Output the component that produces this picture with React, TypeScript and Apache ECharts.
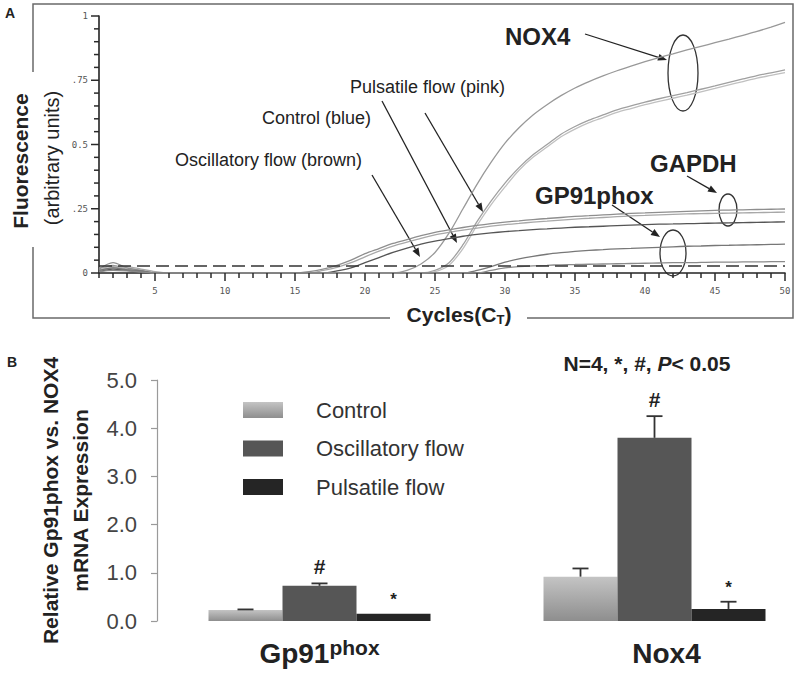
import React, { useEffect, useRef } from 'react';
import * as echarts from 'echarts';

// ---------- Panel A data (qPCR amplification curves) ----------
const cycles = [1,2,3,4,5,6,7,8,9,10,11,12,13,14,15,16,17,18,19,20,21,22,23,24,25,26,27,28,29,30,31,32,33,34,35,36,37,38,39,40,41,42,43,44,45,46,47,48,49,50];
const xMajorTicks = [5,10,15,20,25,30,35,40,45,50];
const yTickValuesA = [0,0.05,0.1,0.15,0.2,0.25,0.3,0.35,0.4,0.45,0.5,0.55,0.6,0.65,0.7,0.75,0.8,0.85,0.9,0.95,1];
const yMajorTicksA = [0, 0.25, 0.5, 0.75, 1];
const yTickLabelsA = ['0', '.25', '0.5', '.75', '1'];
const thresholdA = 0.025;

const nox4Top = [0.01,0.03,0.015,0.01,0, 0,0,0,0,0, 0,0,0,0,0, 0,0,0,0,0, 0,0,0.01,0.035,0.08, 0.155,0.25,0.345,0.43,0.505, 0.565,0.615,0.655,0.69,0.72, 0.745,0.767,0.787,0.805,0.822, 0.838,0.853,0.868,0.882,0.896, 0.91,0.925,0.94,0.957,0.975];
const nox4PairA = [0.02,0.025,0.01,0.005,0, 0,0,0,0,0, 0,0,0,0,0, 0,0,0,0,0, 0,0,0,0,0.01, 0.04,0.11,0.2,0.28,0.35, 0.41,0.46,0.5,0.54,0.57, 0.595,0.615,0.635,0.65,0.665, 0.678,0.69,0.702,0.715,0.728, 0.742,0.755,0.768,0.779,0.79];
const nox4PairB = [0.015,0.02,0.02,0.01,0, 0,0,0,0,0, 0,0,0,0,0, 0,0,0,0,0, 0,0,0,0,0.005, 0.03,0.095,0.185,0.265,0.335, 0.4,0.45,0.49,0.53,0.56, 0.585,0.605,0.625,0.64,0.655, 0.668,0.68,0.692,0.705,0.718, 0.732,0.745,0.758,0.769,0.78];
const gapdhA = [0.015,0.04,0.02,0.01,0, 0,0,0,0,0, 0,0,0,0,0, 0.005,0.015,0.03,0.05,0.075, 0.095,0.115,0.13,0.145,0.158, 0.168,0.177,0.185,0.192,0.198, 0.203,0.208,0.212,0.216,0.22, 0.223,0.226,0.229,0.232,0.234, 0.236,0.238,0.24,0.242,0.244, 0.245,0.246,0.247,0.248,0.249];
const gapdhB = [0.01,0.02,0.025,0.015,0.005, 0,0,0,0,0, 0,0,0,0,0, 0,0.01,0.022,0.04,0.063, 0.085,0.105,0.12,0.135,0.148, 0.158,0.167,0.175,0.182,0.188, 0.193,0.198,0.202,0.206,0.21, 0.213,0.216,0.219,0.222,0.224, 0.226,0.228,0.23,0.231,0.232, 0.233,0.234,0.235,0.236,0.237];
const gapdhC = [0.005,0.015,0.01,0.005,0, 0,0,0,0,0, 0,0,0,0,0, 0,0,0.008,0.02,0.04, 0.06,0.08,0.097,0.112,0.124, 0.134,0.143,0.15,0.156,0.161, 0.165,0.169,0.172,0.175,0.178, 0.18,0.182,0.184,0.186,0.188, 0.19,0.191,0.192,0.193,0.194, 0.195,0.196,0.197,0.198,0.199];
const gp91A = [0.01,0.02,0.012,0.008,0, 0,0,0,0,0, 0,0,0,0,0, 0,0,0,0,0, 0,0,0,0,0, 0,0,0.01,0.025,0.042, 0.055,0.065,0.073,0.079,0.084, 0.088,0.091,0.094,0.096,0.098, 0.1,0.102,0.104,0.105,0.107, 0.108,0.109,0.11,0.111,0.112];
const gp91B = [0.005,0.01,0.008,0.004,0, 0,0,0,0,0, 0,0,0,0,0, 0,0,0,0,0, 0,0,0,0,0, 0,0,0,0.01,0.02, 0.025,0.028,0.03,0.032,0.033, 0.034,0.035,0.036,0.037,0.038, 0.039,0.04,0.04,0.041,0.042, 0.042,0.043,0.043,0.044,0.044];

// ---------- Panel B data (relative mRNA expression) ----------
const categoriesB = ['Gp91', 'Nox4'];
const categorySupB = ['phox', ''];
const groupNames = ['Control', 'Oscillatory flow', 'Pulsatile flow'];
const controlVals = [0.23, 0.92];
const controlErr = [0.01, 0.17];
const oscVals = [0.73, 3.8];
const oscErr = [0.05, 0.45];
const pulsVals = [0.15, 0.25];
const pulsErr = [0, 0.15];
const controlMarks = ['', ''];
const oscMarks = ['#', '#'];
const pulsMarks = ['*', '*'];
const yTicksB = [0, 1, 2, 3, 4, 5];

const FONT = "'Liberation Sans', Arial, Helvetica, sans-serif";
const MONO = "'DejaVu Sans Mono', monospace";

function arrow(x1: number, y1: number, x2: number, y2: number) {
  const dx = x2 - x1, dy = y2 - y1;
  const len = Math.hypot(dx, dy);
  const ux = dx / len, uy = dy / len;
  const hl = 9, hw = 3.5;
  const bx = x2 - ux * hl, by = y2 - uy * hl;
  return [
    { type: 'line', silent: true, shape: { x1, y1, x2: bx, y2: by }, style: { stroke: '#222', lineWidth: 1.3 } },
    { type: 'polygon', silent: true, shape: { points: [[x2, y2], [bx - uy * hw, by + ux * hw], [bx + uy * hw, by - ux * hw]] }, style: { fill: '#222' } },
  ];
}

function ellipse(cx: number, cy: number, rx: number, ry: number) {
  return { type: 'ellipse', silent: true, shape: { cx, cy, rx, ry }, style: { fill: 'none', stroke: '#333', lineWidth: 1.3 } };
}

function label(text: string, x: number, y: number, size: number, bold: boolean, align = 'left') {
  return {
    type: 'text', silent: true,
    style: { text, x, y, align, verticalAlign: 'middle', fontFamily: FONT, fontSize: size, fontWeight: bold ? 'bold' : 'normal', fill: '#222' },
  };
}

export default function App() {
  const ref = useRef<HTMLDivElement>(null);

  useEffect(() => {
    if (!ref.current) return;
    const chart = echarts.init(ref.current, null, { renderer: 'svg' });

    const curveDefs = [
      { data: nox4Top, color: '#999999' },
      { data: nox4PairA, color: '#a0a0a0' },
      { data: nox4PairB, color: '#c0c0c0' },
      { data: gapdhA, color: '#8e8e8e' },
      { data: gapdhB, color: '#a8a8a8' },
      { data: gapdhC, color: '#555555' },
      { data: gp91A, color: '#777777' },
      { data: gp91B, color: '#8a8a8a' },
    ];

    const lineSeries: any[] = curveDefs.map((c, k) => ({
      type: 'line',
      xAxisIndex: 0,
      yAxisIndex: 0,
      silent: true,
      showSymbol: false,
      smooth: 0.3,
      clip: true,
      lineStyle: { color: c.color, width: 1.3 },
      data: cycles.map((cy, i) => [cy, c.data[i]]),
      z: 2,
      markLine: k === 0 ? {
        silent: true,
        symbol: 'none',
        label: { show: false },
        lineStyle: { type: [13, 6], color: '#333', width: 1.5 },
        data: [{ yAxis: thresholdA }],
      } : undefined,
    }));

    // tick marks of panel A (every cycle, every 0.05), drawn through the axes' scales
    const xTickSeries: any = {
      type: 'custom', xAxisIndex: 0, yAxisIndex: 0, silent: true, clip: false, z: 6,
      encode: { x: 0, y: 1 },
      data: cycles.map((c) => [c, 0, xMajorTicks.indexOf(c) >= 0 ? 8 : 5]),
      renderItem: (params: any, api: any) => {
        const p = api.coord([api.value(0), api.value(1)]);
        return { type: 'line', shape: { x1: p[0], y1: p[1], x2: p[0], y2: p[1] + api.value(2) }, style: { stroke: '#2a2a2a', lineWidth: 1.5 } };
      },
    };
    const yTickSeries: any = {
      type: 'custom', xAxisIndex: 0, yAxisIndex: 0, silent: true, clip: false, z: 6,
      encode: { x: 0, y: 1 },
      data: yTickValuesA.map((v) => [1, v, yMajorTicksA.indexOf(v) >= 0 ? 8 : 5]),
      renderItem: (params: any, api: any) => {
        const p = api.coord([api.value(0), api.value(1)]);
        return { type: 'line', shape: { x1: p[0], y1: p[1], x2: p[0] - api.value(2), y2: p[1] }, style: { stroke: '#2a2a2a', lineWidth: 1.5 } };
      },
    };

    const barColors = [
      new echarts.graphic.LinearGradient(0, 0, 0, 1, [
        { offset: 0, color: '#c4c4c4' },
        { offset: 1, color: '#8e8e8e' },
      ]),
      '#565656',
      '#252525',
    ];
    const vals = [controlVals, oscVals, pulsVals];
    const errs = [controlErr, oscErr, pulsErr];
    const marks = [controlMarks, oscMarks, pulsMarks];
    const BW = 74;
    const offsets = [-BW, 0, BW];

    const barSeries: any[] = groupNames.map((name, g) => ({
      type: 'bar', name, xAxisIndex: 2, yAxisIndex: 1, barWidth: BW, barGap: '0%', silent: true,
      itemStyle: { color: barColors[g] }, data: vals[g], z: 2,
    }));

    const errSeries: any[] = groupNames.map((name, g) => ({
      type: 'custom', name: 'err-' + name, xAxisIndex: 2, yAxisIndex: 1, silent: true, z: 5,
      encode: { x: 0, y: 1 },
      data: categoriesB.map((c, i) => [i, vals[g][i], errs[g][i], i]),
      renderItem: (params: any, api: any) => {
        const cat = api.value(0);
        const v = api.value(1);
        const e = api.value(2);
        const idx = api.value(3);
        const base = api.coord([cat, v]);
        const top = api.coord([cat, v + e]);
        const x = base[0] + offsets[g];
        const children: any[] = [];
        if (e > 0) {
          children.push({ type: 'line', shape: { x1: x, y1: base[1], x2: x, y2: top[1] }, style: { stroke: '#333', lineWidth: 1.8 } });
          children.push({ type: 'line', shape: { x1: x - 8, y1: top[1], x2: x + 8, y2: top[1] }, style: { stroke: '#333', lineWidth: 1.8 } });
        }
        const m = marks[g][idx];
        if (m) {
          children.push({
            type: 'text',
            style: {
              text: m, x, y: top[1] - (m === '#' ? 17 : 14), align: 'center', verticalAlign: 'middle',
              fontFamily: FONT, fontSize: m === '#' ? 21 : 17, fontWeight: 'bold', fill: '#222',
            },
          });
        }
        return { type: 'group', children };
      },
    }));

    const graphic: any[] = [
      { type: 'polyline', silent: true, shape: { points: [[33, 72], [33, 4], [793, 4], [793, 318], [527, 318]] }, style: { stroke: '#6a6a6a', lineWidth: 1.5, fill: 'none' } },
      { type: 'polyline', silent: true, shape: { points: [[390, 318], [33, 318], [33, 247]] }, style: { stroke: '#6a6a6a', lineWidth: 1.5, fill: 'none' } },
      label('A', 5, 13, 14, true),
      label('B', 7, 362, 14, true),
      {
        type: 'text', silent: true, x: 20, y: 161, rotation: Math.PI / 2,
        style: { text: 'Fluorescence', x: 0, y: 0, align: 'center', verticalAlign: 'middle', fontFamily: FONT, fontSize: 21, fontWeight: 'bold', fill: '#222' },
      },
      {
        type: 'text', silent: true, x: 52, y: 158, rotation: Math.PI / 2,
        style: { text: '(arbitrary units)', x: 0, y: 0, align: 'center', verticalAlign: 'middle', fontFamily: FONT, fontSize: 20, fill: '#222' },
      },
      {
        type: 'text', silent: true,
        style: {
          text: '{a|Cycles(C}{s|T}{a|)}', x: 459, y: 314, align: 'center', verticalAlign: 'middle',
          rich: {
            a: { fontFamily: FONT, fontSize: 21, fontWeight: 'bold', fill: '#222', lineHeight: 24 },
            s: { fontFamily: FONT, fontSize: 13, fontWeight: 'bold', fill: '#222', lineHeight: 14, verticalAlign: 'bottom' },
          },
        },
      },
      label('NOX4', 505, 36, 24, true),
      label('GAPDH', 650, 163, 24, true),
      label('GP91phox', 535, 195, 24, true),
      label('Pulsatile flow (pink)', 350, 87, 18, false),
      label('Control (blue)', 262, 118, 18, false),
      label('Oscillatory flow (brown)', 175, 160, 18, false),
      ...arrow(585, 34, 667, 60),
      ...arrow(687, 176, 717, 193),
      ...arrow(612, 205, 660, 237),
      ...arrow(425, 113, 483, 212),
      ...arrow(382, 101, 457, 243),
      ...arrow(372, 175, 420, 257),
      ellipse(683, 73, 15, 38),
      ellipse(728, 210, 9, 16),
      ellipse(673, 253, 13, 23),
      {
        type: 'text', silent: true,
        style: {
          text: '{b|N=4, *, #, }{i|P}{b|< 0.05}', x: 647, y: 363, align: 'center', verticalAlign: 'middle',
          rich: {
            b: { fontFamily: FONT, fontSize: 21, fontWeight: 'bold', fill: '#222' },
            i: { fontFamily: FONT, fontSize: 21, fontWeight: 'bold', fontStyle: 'italic', fill: '#222' },
          },
        },
      },
    ];

    const option: any = {
      animation: false,
      backgroundColor: '#ffffff',
      grid: [
        { left: 99, right: 15, top: 16, bottom: 403, outerBoundsMode: 'none' },
        { left: 152, right: -22, top: 380, bottom: 55, outerBoundsMode: 'none' },
      ],
      xAxis: [
        {
          gridIndex: 0, type: 'value', min: 1, max: 50,
          axisLine: { show: true, lineStyle: { color: '#222', width: 1.6 } },
          axisTick: { show: false },
          axisLabel: { show: true, customValues: xMajorTicks, fontFamily: MONO, fontSize: 9, color: '#555', margin: 13 },
          splitLine: { show: false },
        },
        { gridIndex: 0, type: 'value', min: 1, max: 50, show: false },
        {
          gridIndex: 1, type: 'category', data: categoriesB,
          axisLine: { show: false }, axisTick: { show: false },
          axisLabel: {
            interval: 0, margin: 16,
            formatter: (v: string) => {
              const i = categoriesB.indexOf(v);
              return categorySupB[i] ? `{a|${v}}{b|${categorySupB[i]}}` : `{n|${v}}`;
            },
            rich: {
              a: { fontFamily: FONT, fontSize: 28, fontWeight: 'bold', color: '#222', lineHeight: 32 },
              b: { fontFamily: FONT, fontSize: 21, fontWeight: 'bold', color: '#222', lineHeight: 28, verticalAlign: 'top' },
              n: { fontFamily: FONT, fontSize: 28, fontWeight: 'bold', color: '#222', lineHeight: 32, padding: [0, 0, 0, 24] },
            },
          },
        },
      ],
      yAxis: [
        {
          gridIndex: 0, type: 'value', min: 0, max: 1, interval: 0.25,
          axisLine: { show: true, lineStyle: { color: '#222', width: 1.6 } },
          axisTick: { show: false },
          axisLabel: {
            formatter: (v: number) => yTickLabelsA[Math.round(v / 0.25)],
            fontFamily: MONO, fontSize: 9, color: '#555', margin: 11,
          },
          splitLine: { show: false },
        },
        {
          gridIndex: 1, type: 'value', min: yTicksB[0], max: yTicksB[yTicksB.length - 1], interval: 1, offset: -5,
          axisLine: { show: true, lineStyle: { color: '#9a9a9a', width: 1.2 } },
          axisTick: { show: true, length: 6, lineStyle: { color: '#9a9a9a', width: 1.2 } },
          axisLabel: { formatter: (v: number) => v.toFixed(1), fontFamily: FONT, fontSize: 22, color: '#444', margin: 20 },
          splitLine: { show: false },
          name: 'Relative Gp91phox vs. NOX4\nmRNA Expression',
          nameLocation: 'middle', nameRotate: 90, nameGap: 60,
          nameTextStyle: { fontFamily: FONT, fontSize: 21, fontWeight: 'bold', color: '#222', lineHeight: 30 },
        },
      ],
      legend: {
        data: groupNames, orient: 'vertical', left: 243, top: 399, padding: 0,
        itemWidth: 40, itemHeight: 16, itemGap: 16.5, icon: 'rect', selectedMode: false,
        textStyle: { fontFamily: FONT, fontSize: 22, color: '#333', lineHeight: 22, padding: [0, 0, 0, 28] },
      },
      graphic,
      series: [...lineSeries, xTickSeries, yTickSeries, ...barSeries, ...errSeries],
    };

    chart.setOption(option);
    return () => chart.dispose();
  }, []);

  return (
    <div
      ref={ref}
      style={{ position: 'fixed', left: 0, top: 0, width: 800, height: 676, background: '#fff' }}
    />
  );
}
